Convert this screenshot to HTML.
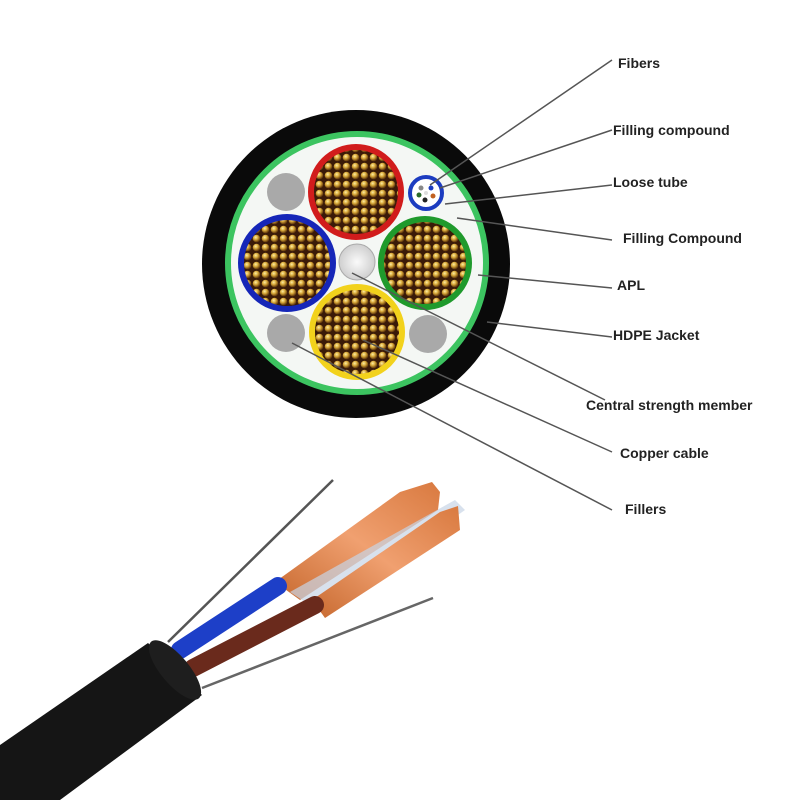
<!DOCTYPE html>
<html><head><meta charset="utf-8"><style>
html,body{margin:0;padding:0;background:#fff;width:800px;height:800px;overflow:hidden}
text{font-family:"Liberation Sans",Arial,sans-serif;font-weight:bold;font-size:14px;fill:#222}
</style></head><body>
<svg width="800" height="800" viewBox="0 0 800 800" xmlns="http://www.w3.org/2000/svg">
<defs>
<radialGradient id="dot" cx="40%" cy="35%" r="60%">
<stop offset="0" stop-color="#fff0a8"/><stop offset="0.5" stop-color="#d8a838"/><stop offset="1" stop-color="#6a4010"/>
</radialGradient>
<pattern id="cu" width="9" height="9" patternUnits="userSpaceOnUse">
<rect width="9" height="9" fill="#3a1a08"/>
<circle cx="4.5" cy="4.5" r="3.8" fill="url(#dot)"/>
</pattern>
<radialGradient id="ctr" cx="50%" cy="50%" r="50%"><stop offset="0" stop-color="#fafafa"/><stop offset="1" stop-color="#cfcfcf"/></radialGradient>
<linearGradient id="cop" x1="0" y1="1" x2="1" y2="0"><stop offset="0" stop-color="#c86a30"/><stop offset="0.5" stop-color="#f0a070"/><stop offset="1" stop-color="#d97a40"/></linearGradient>
</defs>

<circle cx="356" cy="264" r="154" fill="#0a0a0a"/>
<circle cx="357" cy="263" r="129" fill="#f4f7f4" stroke="#3cc460" stroke-width="6"/>
<circle cx="286" cy="192" r="19" fill="#a9a9a9"/>
<circle cx="286" cy="333" r="19" fill="#a9a9a9"/>
<circle cx="428" cy="334" r="19" fill="#a9a9a9"/>
<circle cx="357" cy="262" r="18" fill="url(#ctr)" stroke="#aaa" stroke-width="1"/>
<circle cx="356" cy="192" r="45" fill="url(#cu)" stroke="#d11c1c" stroke-width="6"/>
<circle cx="287" cy="263" r="46" fill="url(#cu)" stroke="#1526b8" stroke-width="6"/>
<circle cx="425" cy="263" r="44" fill="url(#cu)" stroke="#1f9a2c" stroke-width="6"/>
<circle cx="357" cy="332" r="45" fill="url(#cu)" stroke="#f2d21c" stroke-width="6"/>
<circle cx="426" cy="193" r="16" fill="#fff" stroke="#1c3cc0" stroke-width="4"/>
<circle cx="421" cy="188" r="2.5" fill="#888"/><circle cx="431" cy="188" r="2.5" fill="#1c3cc0"/>
<circle cx="419" cy="195" r="2.5" fill="#2a6a2a"/><circle cx="433" cy="196" r="2.5" fill="#c06020"/>
<circle cx="425" cy="200" r="2.5" fill="#222"/><circle cx="426" cy="193" r="2" fill="#ddd"/>

<g stroke="#555" stroke-width="1.5" fill="none">
<line x1="612" y1="60" x2="430" y2="185"/>
<line x1="612" y1="130" x2="440" y2="188"/>
<line x1="612" y1="185" x2="445" y2="204"/>
<line x1="612" y1="240" x2="457" y2="218"/>
<line x1="612" y1="288" x2="478" y2="275"/>
<line x1="612" y1="337" x2="487" y2="322"/>
<line x1="605" y1="400" x2="352" y2="273"/>
<line x1="612" y1="452" x2="363" y2="340"/>
<line x1="612" y1="510" x2="292" y2="343"/>
</g>
<text x="618" y="68">Fibers</text>
<text x="613" y="135">Filling compound</text>
<text x="613" y="187">Loose tube</text>
<text x="623" y="243">Filling Compound</text>
<text x="617" y="290">APL</text>
<text x="613" y="340">HDPE Jacket</text>
<text x="586" y="410">Central strength member</text>
<text x="620" y="458">Copper cable</text>
<text x="625" y="514">Fillers</text>

<line x1="168" y1="642" x2="333" y2="480" stroke="#555" stroke-width="2.5"/>
<polygon points="275,582 400,492 432,482 440,492 438,510 300,600" fill="url(#cop)"/>
<polygon points="290,592 455,500 465,510 320,612" fill="#c8d4e6" opacity="0.7"/>
<polygon points="312,600 440,512 458,506 460,530 325,618" fill="url(#cop)"/>
<line x1="180" y1="650" x2="278" y2="586" stroke="#1d3fc8" stroke-width="18" stroke-linecap="round"/>
<line x1="193" y1="668" x2="315" y2="605" stroke="#6a2a1c" stroke-width="18" stroke-linecap="round"/>
<line x1="202" y1="688" x2="433" y2="598" stroke="#666" stroke-width="2.5"/>
<polygon points="0,745 148,643 202,695 60,800 0,800" fill="#151515"/>
<ellipse cx="175" cy="670" rx="14" ry="37" transform="rotate(-40 175 670)" fill="#1e1e1e"/>
</svg>
</body></html>
